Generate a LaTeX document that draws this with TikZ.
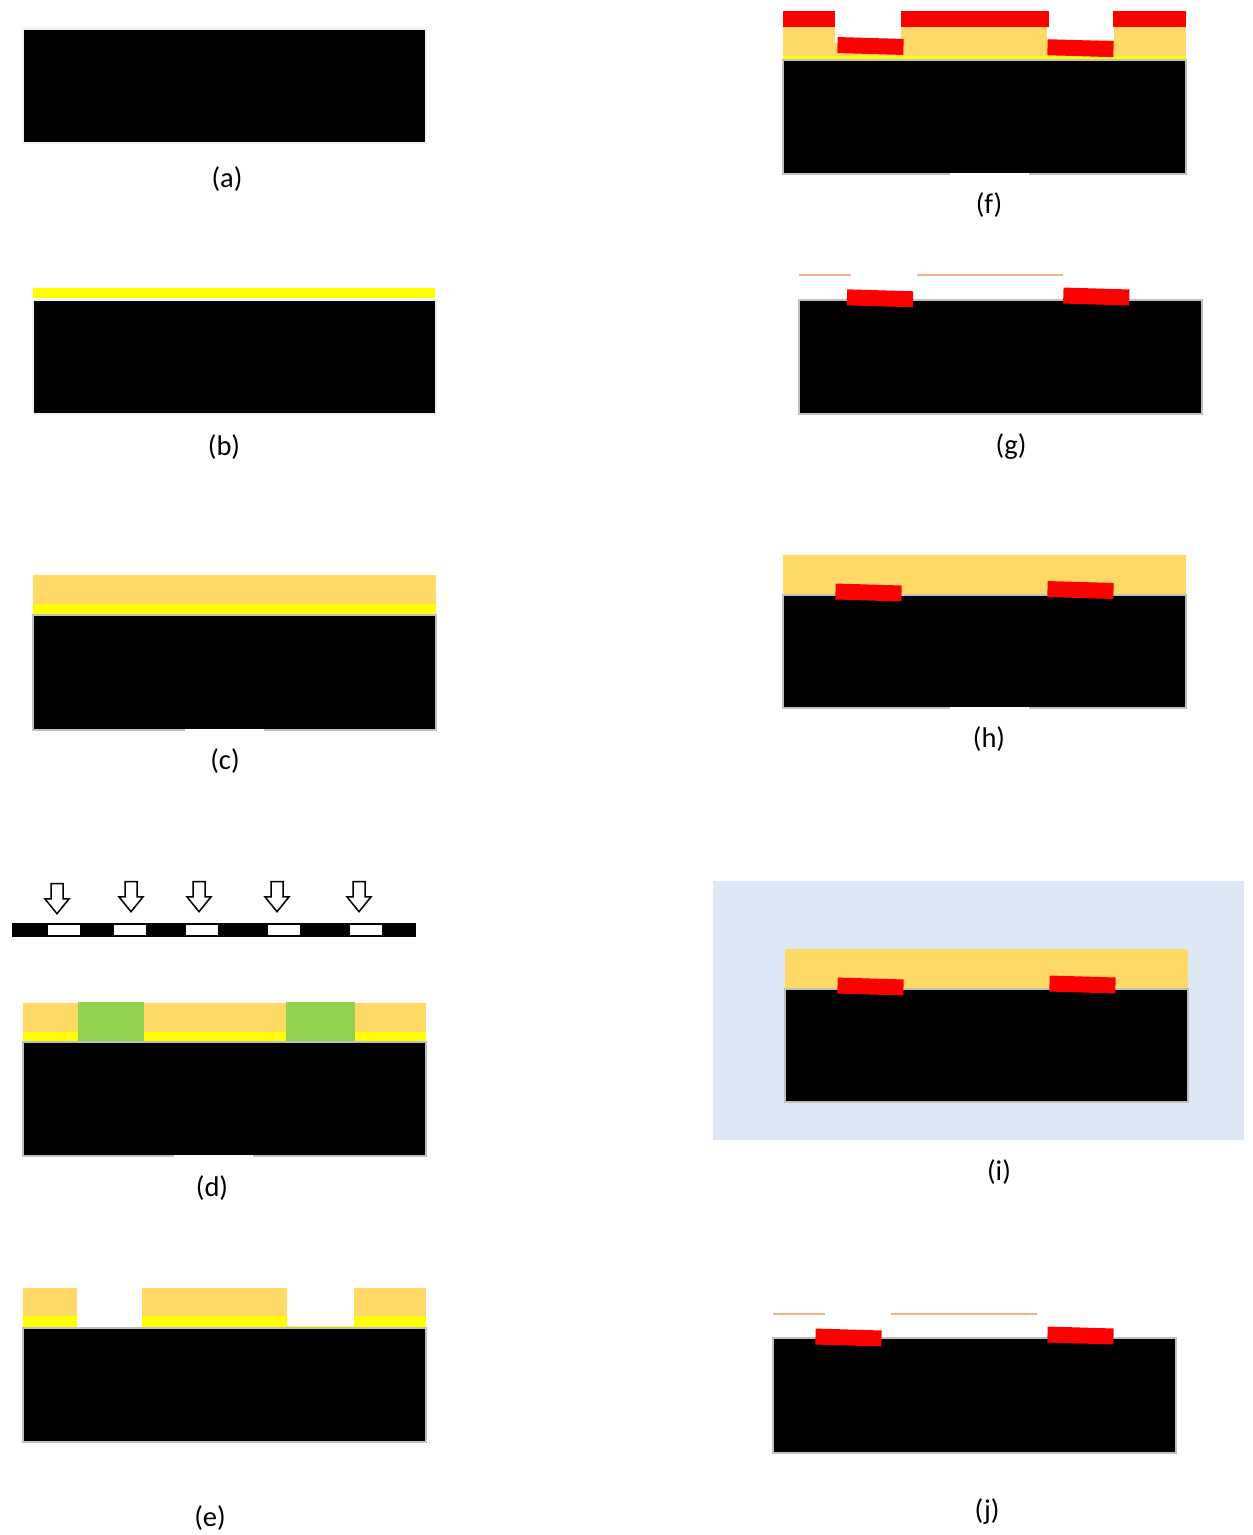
\documentclass[tikz,border=0pt]{standalone}
\usepackage{fontspec}
\setmainfont{Carlito}
\usepackage{xcolor}
\usetikzlibrary{shapes.arrows}
\definecolor{resistc}{HTML}{FFD966}
\definecolor{seedc}{HTML}{FFFF00}
\definecolor{exposedc}{HTML}{92D050}
\definecolor{metalc}{HTML}{FF0000}
\definecolor{edgec}{HTML}{BFBFBF}
\definecolor{bathc}{HTML}{DEE8F5}
\definecolor{tracec}{HTML}{F4B183}

\begin{document}
\begin{tikzpicture}[
  x=1pt, y=-1pt,
  font=\fontsize{28.5}{32}\selectfont,
  wafer/.style={draw=edgec, line width=2pt, fill=black, inner sep=0pt, minimum width=403pt, minimum height=114pt},
  palewafer/.style={wafer, draw=black!6},
  chip/.style={fill=metalc, inner sep=0pt, minimum width=66pt, minimum height=16pt, rotate=-1.7},
  dose/.style={single arrow, draw=black, fill=white, line width=1.5pt, rotate=-90, inner sep=0pt, outer sep=0pt,
    text height=10.5pt, text depth=0pt, minimum width=23pt, minimum height=30pt,
    single arrow head extend=6pt, single arrow tip angle=78},
  resist/.style={fill=resistc},
  seed/.style={fill=seedc},
  exposed/.style={fill=exposedc},
  metal/.style={fill=metalc},
  gap/.style={fill=white},
  trace/.style={draw=tracec, line width=1.5pt}
]
\useasboundingbox (0,0) rectangle (1253,1535);

% (a)
\node[palewafer] (waferA) at (224.5,85.5) {};
\node (labA) at (227,179) {(a)};

% (b)
\fill[seed] (33,288) rectangle (435,298);
\node[palewafer] (waferB) at (234.5,356.5) {};
\node (labB) at (224,447) {(b)};

% (c)
\fill[resist] (33,575) rectangle (436,604);
\fill[seed] (33,604) rectangle (436,615);
\node[wafer, minimum height=115pt] (waferC) at (234.5,672.5) {};
\fill[gap] (185,729) rectangle (264,731);
\node (labC) at (225,761) {(c)};

% (d)
\node[dose] (doseA) at (57,895) {};
\node[dose] (doseB) at (131,893) {};
\node[dose] (doseC) at (199,893) {};
\node[dose] (doseD) at (277,893) {};
\node[dose] (doseE) at (359,893) {};
\fill[black] (12,923) rectangle (416,937);
\fill[gap] (48,925) rectangle (80,935);
\fill[gap] (114,925) rectangle (146,935);
\fill[gap] (186,925) rectangle (218,935);
\fill[gap] (268,925) rectangle (300,935);
\fill[gap] (350,925) rectangle (382,935);
\fill[resist] (23,1003) rectangle (426,1032);
\fill[seed] (23,1032) rectangle (426,1042);
\fill[exposed] (78,1002) rectangle (144,1041);
\fill[exposed] (286,1002) rectangle (355,1041);
\node[wafer] (waferD) at (224.5,1099) {};
\fill[gap] (174,1155) rectangle (253,1157);
\node (labD) at (212,1188) {(d)};

% (e)
\fill[resist] (23,1288) rectangle (77,1316);
\fill[resist] (142,1288) rectangle (287,1316);
\fill[resist] (354,1288) rectangle (426,1316);
\fill[seed] (23,1316) rectangle (77,1328);
\fill[seed] (142,1316) rectangle (287,1328);
\fill[seed] (287,1326) rectangle (354,1328);
\fill[seed] (354,1316) rectangle (426,1328);
\node[wafer] (waferE) at (224.5,1385) {};
\node (labE) at (210,1518) {(e)};

% (f)
\fill[metal] (783,11) rectangle (835,27);
\fill[metal] (901,11) rectangle (1049,27);
\fill[metal] (1113,11) rectangle (1186,27);
\fill[resist] (783,27) rectangle (835,57);
\fill[resist] (835,43) rectangle (901,57);
\fill[resist] (901,27) rectangle (1047,57);
\fill[resist] (1047,40) rectangle (1114,57);
\fill[resist] (1114,27) rectangle (1186,57);
\fill[seed] (783,56) rectangle (1186,60);
\node[wafer] (waferF) at (984.5,116.5) {};
\fill[gap] (950,172.5) rectangle (1029,174.5);
\node[chip] (chipFa) at (870.5,46) {};
\node[chip] (chipFb) at (1080.5,48.2) {};
\node (labF) at (989,205) {(f)};

% (g)
\draw[trace] (799,275) -- (851,275);
\draw[trace] (917,275) -- (1063,275);
\node[wafer] (waferG) at (1000.5,356.5) {};
\node[chip] (chipGa) at (880,298.3) {};
\node[chip] (chipGb) at (1096.3,296.5) {};
\node (labG) at (1011,447) {(g)};

% (h)
\fill[resist] (783,555) rectangle (1186,595);
\node[wafer, minimum height=113pt] (waferH) at (984.5,651.5) {};
\fill[gap] (950,707) rectangle (1029,709);
\node[chip] (chipHa) at (868.5,592.5) {};
\node[chip] (chipHb) at (1080.5,590) {};
\node (labH) at (989,739) {(h)};

% (i)
\fill[bathc] (713,881) rectangle (1244,1140);
\fill[resist] (785,949) rectangle (1188,989);
\node[wafer, minimum height=113pt] (waferI) at (986.5,1045.5) {};
\node[chip] (chipIa) at (870.5,986.5) {};
\node[chip] (chipIb) at (1082.5,984.5) {};
\node (labI) at (999,1172) {(i)};

% (j)
\draw[trace] (773,1314) -- (825,1314);
\draw[trace] (891,1314) -- (1037,1314);
\node[wafer, minimum height=115pt] (waferJ) at (974.5,1395.5) {};
\node[chip] (chipJa) at (848.5,1337.5) {};
\node[chip] (chipJb) at (1080.5,1335.5) {};
\node (labJ) at (987,1511) {(j)};
\end{tikzpicture}
\end{document}
